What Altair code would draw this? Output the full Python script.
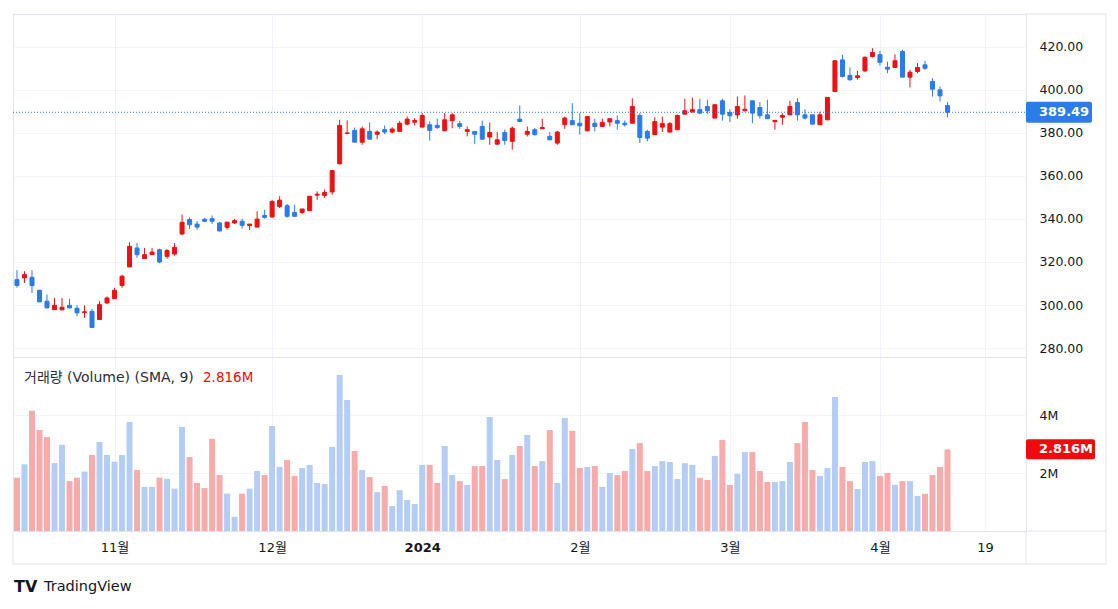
import altair as alt
import pandas as pd

# ---------------- data ----------------
opens = [311.8, 312.6, 312.9, 306.9, 301.8, 297.9, 297.8, 299.9, 298.5, 296.5,
         297.1, 293.3, 301.0, 303.0, 309.1, 317.7, 326.5, 321.6, 323.4, 325.7,
         322.6, 323.7, 333.0, 339.7, 337.6, 339.8, 340.1, 338.1, 336.1, 338.1,
         338.9, 336.9, 336.2, 341.6, 340.9, 345.7, 346.1, 343.0, 343.0, 343.8,
         351.0, 350.9, 352.5, 365.6, 379.6, 381.1, 375.6, 380.6, 379.3, 381.4,
         380.3, 380.6, 384.0, 384.9, 382.6, 383.7, 383.4, 380.9, 385.6, 384.2,
         380.6, 380.6, 382.9, 378.0, 374.7, 380.1, 376.0, 386.3, 379.3, 381.4,
         381.8, 378.3, 375.2, 383.7, 385.6, 384.4, 380.9, 384.4, 382.9, 385.0,
         385.6, 384.4, 384.4, 388.0, 380.6, 379.1, 382.6, 380.3, 381.4, 388.6,
         389.6, 390.7, 392.2, 386.8, 394.8, 389.4, 388.3, 390.2, 394.8, 391.7,
         388.3, 385.1, 387.2, 388.3, 394.0, 388.3, 388.3, 383.7, 386.0, 399.1,
         413.8, 406.6, 405.6, 408.7, 415.4, 416.2, 410.4, 410.3, 417.7, 405.8,
         408.4, 411.5, 403.8, 399.9, 392.6]
highs = [316.2, 315.7, 316.2, 307.0, 304.9, 303.3, 303.3, 302.9, 299.9, 299.9,
         298.2, 301.8, 304.0, 308.0, 314.1, 329.1, 328.8, 326.5, 326.5, 326.2,
         326.0, 328.8, 342.0, 340.7, 339.0, 340.5, 341.6, 338.6, 338.5, 340.0,
         340.1, 337.6, 343.5, 344.3, 348.7, 350.5, 347.0, 346.6, 344.6, 350.5,
         352.8, 353.6, 362.4, 386.0, 385.7, 382.4, 382.9, 384.8, 381.1, 383.4,
         382.5, 385.5, 387.5, 386.8, 389.1, 385.2, 386.5, 389.1, 389.1, 385.5,
         382.9, 380.6, 385.6, 384.8, 380.3, 381.5, 382.9, 392.6, 382.9, 382.2,
         386.5, 380.3, 380.9, 387.5, 393.7, 389.1, 387.5, 386.5, 386.5, 386.5,
         388.0, 385.7, 396.0, 389.1, 381.4, 387.2, 387.5, 385.0, 388.5, 395.8,
         396.4, 395.8, 395.3, 393.0, 395.8, 390.9, 396.8, 397.3, 394.8, 394.2,
         395.3, 385.7, 389.1, 394.8, 396.0, 390.9, 388.3, 389.8, 396.4, 413.8,
         416.2, 410.3, 408.7, 415.4, 419.2, 418.0, 413.0, 416.4, 418.5, 409.2,
         412.3, 413.4, 405.3, 401.5, 394.2]
lows = [308.0, 310.3, 305.6, 301.3, 298.5, 297.8, 297.6, 298.5, 294.8, 294.0,
        289.4, 293.2, 300.5, 303.0, 308.0, 317.7, 321.9, 321.6, 323.2, 319.5,
        321.5, 323.0, 332.4, 335.3, 335.0, 338.5, 337.6, 334.2, 335.0, 337.7,
        335.5, 334.8, 336.2, 340.1, 340.5, 345.0, 340.6, 341.0, 342.2, 343.8,
        348.8, 349.7, 351.2, 365.2, 379.5, 375.6, 374.4, 377.0, 377.0, 379.3,
        379.6, 380.6, 383.4, 383.4, 382.6, 376.4, 381.8, 380.9, 382.1, 381.8,
        378.3, 374.7, 376.8, 374.4, 374.4, 374.4, 372.1, 384.9, 378.3, 378.7,
        381.8, 376.7, 374.4, 381.8, 383.7, 379.1, 380.6, 380.6, 382.9, 382.9,
        381.4, 382.9, 384.4, 375.2, 376.0, 379.1, 380.3, 380.3, 381.4, 388.6,
        389.5, 388.6, 388.6, 386.8, 385.6, 384.9, 386.5, 389.9, 384.4, 386.5,
        386.5, 381.4, 383.7, 388.3, 385.6, 386.1, 383.7, 383.7, 385.8, 398.8,
        405.6, 404.1, 404.6, 408.1, 414.9, 411.2, 407.6, 410.3, 405.8, 401.0,
        407.6, 409.2, 396.8, 394.5, 387.1]
closes = [309.1, 314.1, 309.0, 301.5, 298.7, 299.9, 299.0, 298.7, 296.4, 296.9,
          289.6, 300.2, 303.3, 306.9, 313.4, 327.3, 323.4, 323.4, 324.6, 320.0,
          325.3, 326.8, 338.4, 337.3, 336.2, 338.9, 338.9, 334.4, 338.5, 339.2,
          337.0, 337.6, 339.9, 340.7, 348.1, 348.7, 341.2, 341.2, 344.6, 350.5,
          351.5, 352.3, 362.4, 383.4, 379.9, 375.6, 381.8, 377.0, 380.3, 380.3,
          381.7, 384.4, 386.3, 385.7, 388.0, 381.1, 382.4, 386.0, 388.3, 382.9,
          381.4, 379.3, 377.0, 380.1, 376.7, 376.4, 382.1, 385.2, 380.6, 379.1,
          382.4, 376.7, 380.3, 386.8, 383.7, 383.2, 387.5, 382.9, 384.8, 386.5,
          384.4, 383.7, 392.2, 377.8, 377.5, 385.2, 384.2, 384.2, 388.0, 390.2,
          390.7, 389.1, 390.2, 393.0, 388.6, 387.9, 392.2, 390.9, 389.1, 387.9,
          386.5, 385.7, 388.0, 392.2, 388.3, 386.8, 384.0, 388.3, 396.4, 413.4,
          406.1, 404.6, 406.4, 415.0, 417.2, 412.7, 409.5, 413.4, 405.8, 408.1,
          410.3, 409.9, 400.2, 397.1, 389.49]
volumes = [1.84, 2.30, 4.14, 3.48, 3.24, 2.34, 2.97, 1.72, 1.84, 2.05,
           2.62, 3.07, 2.62, 2.39, 2.62, 3.76, 2.10, 1.52, 1.52, 1.84,
           1.80, 1.46, 3.59, 2.55, 1.66, 1.48, 3.18, 1.93, 1.29, 0.49,
           1.29, 1.46, 2.07, 1.93, 3.62, 2.21, 2.45, 1.90, 2.17, 2.28,
           1.66, 1.62, 2.90, 5.38, 4.52, 2.76, 2.10, 1.86, 1.34, 1.55,
           0.86, 1.41, 1.07, 0.93, 2.28, 2.28, 1.66, 2.93, 1.93, 1.72,
           1.59, 2.24, 2.24, 3.93, 2.45, 1.79, 2.62, 2.93, 3.31, 2.24,
           2.41, 3.48, 1.66, 3.90, 3.45, 2.17, 2.21, 2.24, 1.52, 2.00,
           1.93, 2.07, 2.83, 3.03, 2.07, 2.24, 2.41, 2.38, 1.79, 2.34,
           2.28, 1.83, 1.76, 2.59, 3.14, 1.59, 1.97, 2.72, 2.72, 2.07,
           1.69, 1.69, 1.72, 2.38, 3.03, 3.76, 2.10, 1.90, 2.17, 4.62,
           2.21, 1.72, 1.45, 2.38, 2.41, 1.90, 2.00, 1.59, 1.72, 1.72,
           1.21, 1.28, 1.93, 2.21, 2.816]

price_ticks = [280, 300, 320, 340, 360, 380, 400, 420]
volume_ticks = [2, 4]
volume_tick_labels = ["2M", "4M"]
time_tick_pos = [13, 34, 54, 75, 95, 115, 129]
time_tick_labels = ["11월", "12월", "2024", "2월", "3월", "4월", "19"]
bold_time_label = "2024"
last_price_label = "389.49"
volume_title = "거래량 (Volume) (SMA, 9)"
volume_value_label = "2.816M"
brand_mark = "TV"
brand_name = "TradingView"

# ---------------- styling ----------------
UP = "#ee1111"
DOWN = "#2b7be9"
VUP = "#b4cdf6"
VDOWN = "#f7abaa"
TAG_RED = "#f20a0a"
GRID = "#f0f3fa"
FRAME = "#e0e3eb"
TEXT = "#131722"
FONT = "DejaVu Sans, Noto Sans CJK KR, sans-serif"

W, H1, H2 = 1013, 343, 174
AXW = 80  # width of the price-axis column

n = len(closes)
df = pd.DataFrame({"i": list(range(n)), "open": opens, "high": highs,
                   "low": lows, "close": closes, "volume": volumes})
df["body_lo"] = df[["open", "close"]].min(axis=1)
df["body_hi"] = df[["open", "close"]].max(axis=1)

up_test = "datum.close >= datum.open"

xscale = alt.Scale(domain=[-0.53, 134.46], nice=False, zero=False, padding=0)
pscale = alt.Scale(domain=[275.9, 435.1], nice=False, zero=False, padding=0)
vscale = alt.Scale(domain=[0, 6.0], nice=False, zero=False, padding=0)

x_axis_price = alt.Axis(values=time_tick_pos, grid=True, gridColor=GRID,
                        labels=False, ticks=False, domain=False, title=None)
price_axis = alt.Axis(orient="right", values=price_ticks, format=".2f",
                      grid=True, gridColor=GRID, ticks=False, domain=False,
                      labelPadding=13, labelFont=FONT, labelFontSize=12.5,
                      labelColor=TEXT, labelOverlap=False, labelAlign="left",
                      labelBaseline="middle", title=None)

label_map = "{" + ",".join(f"'{p}':'{l}'" for p, l in zip(time_tick_pos, time_tick_labels)) + "}"
bold_pos = time_tick_pos[time_tick_labels.index(bold_time_label)]
x_axis_vol = alt.Axis(values=time_tick_pos, grid=True, gridColor=GRID,
                      ticks=False, domain=False, title=None,
                      labelExpr=f"{label_map}[''+datum.value]",
                      labelPadding=10, labelFont=FONT, labelFontSize=13,
                      labelColor=TEXT, labelOverlap=False,
                      labelFontWeight={"condition": {"test": f"datum.value == {bold_pos}", "value": "bold"},
                                       "value": "normal"})
vmap = "{" + ",".join(f"'{v}':'{l}'" for v, l in zip(volume_ticks, volume_tick_labels)) + "}"
vol_axis = alt.Axis(orient="right", values=volume_ticks, grid=True, gridColor=GRID,
                    ticks=False, domain=False, title=None,
                    labelExpr=f"{vmap}[''+datum.value]",
                    labelPadding=13, labelFont=FONT, labelFontSize=12.5,
                    labelColor=TEXT, labelAlign="left", labelBaseline="middle")


def xp():
    return alt.X("i:Q", scale=xscale, axis=x_axis_price, title=None)


def yp(field):
    return alt.Y(field, scale=pscale, axis=price_axis, title=None)


base = alt.Chart(df)

wicks = base.mark_rule(strokeWidth=1).encode(
    x=xp(), y=yp("low:Q"), y2="high:Q",
    color=alt.condition(up_test, alt.value(UP), alt.value(DOWN)),
)
bodies = base.mark_bar(width=4, strokeWidth=1).encode(
    x=xp(), y=yp("body_lo:Q"), y2="body_hi:Q",
    color=alt.condition(up_test, alt.value(UP), alt.value(DOWN)),
    stroke=alt.condition(up_test, alt.value(UP), alt.value(DOWN)),
)

last_close = closes[-1]
tag_color = UP if closes[-1] >= opens[-1] else DOWN
tag_df = pd.DataFrame({"v": [last_close], "label": [last_price_label]})
tag_base = alt.Chart(tag_df)

price_line = tag_base.mark_rule(strokeDash=[1, 2], strokeWidth=1, color=tag_color).encode(
    y=yp("v:Q"), x=alt.value(0), x2=alt.value(W))
price_tag = tag_base.mark_rect(color=tag_color, cornerRadius=2, yOffset=-10.5, y2Offset=10.5).encode(
    y=yp("v:Q"), y2="v:Q", x=alt.value(W), x2=alt.value(W + 66))
price_tag_text = tag_base.mark_text(align="left", baseline="middle", font=FONT, fontSize=13,
                                    fontWeight="bold", color="white").encode(
    y=yp("v:Q"), x=alt.value(W + 13), text="label:N")

one = alt.Chart(pd.DataFrame({"k": [0]}))
frame_top = one.mark_rule(color=FRAME, strokeWidth=1).encode(
    x=alt.value(W), x2=alt.value(W + AXW), y=alt.value(0))
frame_right_top = one.mark_rule(color=FRAME, strokeWidth=1).encode(
    x=alt.value(W + AXW), y=alt.value(0), y2=alt.value(H1))

price_chart = alt.layer(wicks, bodies, price_line, price_tag, price_tag_text,
                        frame_top, frame_right_top).properties(width=W, height=H1)

# ---------------- volume pane ----------------
xv = alt.X("i:Q", scale=xscale, axis=x_axis_vol, title=None)
vol_bars = base.mark_bar(width=6).encode(
    x=xv,
    y=alt.Y("volume:Q", scale=vscale, axis=vol_axis, title=None),
    color=alt.condition(up_test, alt.value(VUP), alt.value(VDOWN)),
)

vtag_df = pd.DataFrame({"v": [volumes[-1]], "label": [volume_value_label]})
vtag_base = alt.Chart(vtag_df)
vol_tag = vtag_base.mark_rect(color=TAG_RED, cornerRadius=2, yOffset=-10, y2Offset=10).encode(
    y=alt.Y("v:Q", scale=vscale, axis=vol_axis, title=None), y2="v:Q",
    x=alt.value(W), x2=alt.value(W + 69))
vol_tag_text = vtag_base.mark_text(align="left", baseline="middle", font=FONT, fontSize=13,
                                   fontWeight="bold", color="white").encode(
    y=alt.Y("v:Q", scale=vscale, axis=vol_axis, title=None),
    x=alt.value(W + 13), text="label:N")

title_df = pd.DataFrame({"t": [volume_title], "val": [volume_value_label]})
vol_title = alt.Chart(title_df).mark_text(align="left", baseline="middle", font=FONT,
                                          fontSize=14, color="#2a2e39").encode(
    x=alt.value(11), y=alt.value(21), text="t:N")
vol_title_val = alt.Chart(title_df).mark_text(align="left", baseline="middle", font=FONT,
                                              fontSize=13.5, color=TAG_RED).encode(
    x=alt.value(190), y=alt.value(21), text="val:N")

frame_rules = [
    one.mark_rule(color=FRAME).encode(x=alt.value(W), x2=alt.value(W + AXW), y=alt.value(H2)),
    one.mark_rule(color=FRAME).encode(x=alt.value(0), x2=alt.value(W + AXW), y=alt.value(H2 + 33)),
    one.mark_rule(color=FRAME).encode(x=alt.value(0), y=alt.value(H2), y2=alt.value(H2 + 33)),
    one.mark_rule(color=FRAME).encode(x=alt.value(W), y=alt.value(H2), y2=alt.value(H2 + 33)),
    one.mark_rule(color=FRAME).encode(x=alt.value(W + AXW), y=alt.value(0), y2=alt.value(H2 + 33)),
]

brand_df = pd.DataFrame({"m": [brand_mark], "n": [brand_name]})
brand_logo = alt.Chart(brand_df).mark_text(align="left", baseline="middle", font="DejaVu Sans",
                                           fontSize=16, fontWeight="bold", color=TEXT).encode(
    x=alt.value(1), y=alt.value(230), text="m:N")
brand_text = alt.Chart(brand_df).mark_text(align="left", baseline="middle", font=FONT,
                                           fontSize=14.5, color=TEXT).encode(
    x=alt.value(31), y=alt.value(230), text="n:N")

vol_chart = alt.layer(vol_bars, vol_tag, vol_tag_text, vol_title, vol_title_val,
                      *frame_rules, brand_logo, brand_text).properties(width=W, height=H2)

chart = alt.vconcat(price_chart, vol_chart, spacing=0, bounds="flush").properties(
    padding={"left": 12, "top": 13, "right": 0, "bottom": 0},
    background="white",
).configure_view(stroke=FRAME, strokeWidth=1)

chart.save("out.html", embed_options={"renderer": "svg", "actions": False})
